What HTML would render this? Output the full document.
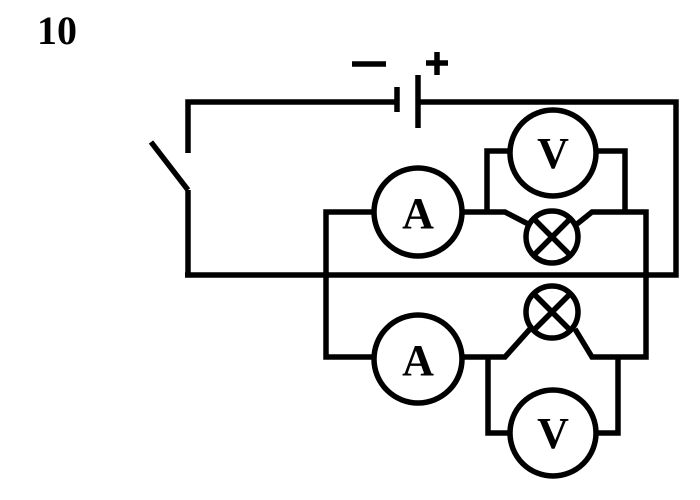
<!DOCTYPE html>
<html><head><style>body{margin:0;background:#fff}svg{display:block}</style></head><body>
<svg width="700" height="500" viewBox="0 0 700 500" xmlns="http://www.w3.org/2000/svg">
<text x="37" y="44" font-family="Liberation Serif, serif" font-weight="bold" font-size="40">10</text>
<g stroke="#000" stroke-width="5.5" fill="none" stroke-linejoin="miter">
<line x1="352" y1="64" x2="386" y2="64"/>
<line x1="426" y1="63" x2="448" y2="63"/><line x1="437" y1="52" x2="437" y2="75"/>
<polyline points="188,153 188,102 397,102"/>
<line x1="397" y1="87" x2="397" y2="112"/>
<line x1="418" y1="75" x2="418" y2="128"/>
<polyline points="418,102 676,102 676,275 185,275 188,275 188,190"/>
<line x1="151" y1="142" x2="188" y2="190"/>
<polyline points="373,212 326,212 326,357 373,357"/>
<polyline points="463,212 505,212 530,225"/>
<polyline points="577,224 592,212 646,212 646,357 592,357 575,329"/>
<polyline points="463,357 505,357 530,329"/>
<polyline points="487,212 487,151 510,151"/>
<polyline points="596,151 625,151 625,212"/>
<polyline points="488,357 488,433 510,433"/>
<polyline points="596,433 618,433 618,357"/>
<circle cx="418" cy="212" r="44"/>
<circle cx="418" cy="359" r="44"/>
<circle cx="553" cy="153" r="43"/>
<circle cx="553" cy="433" r="43"/>
<circle cx="552" cy="237" r="26"/>
<circle cx="552" cy="312" r="26"/>
<line x1="534" y1="219" x2="570" y2="255"/><line x1="570" y1="219" x2="534" y2="255"/>
<line x1="534" y1="294" x2="570" y2="330"/><line x1="570" y1="294" x2="534" y2="330"/>
</g>
<g font-family="Liberation Serif, serif" font-weight="bold" font-size="44" text-anchor="middle">
<text x="418" y="228">A</text><text x="418" y="375">A</text>
<text x="553" y="168">V</text><text x="553" y="448">V</text>
</g>
</svg>
</body></html>
